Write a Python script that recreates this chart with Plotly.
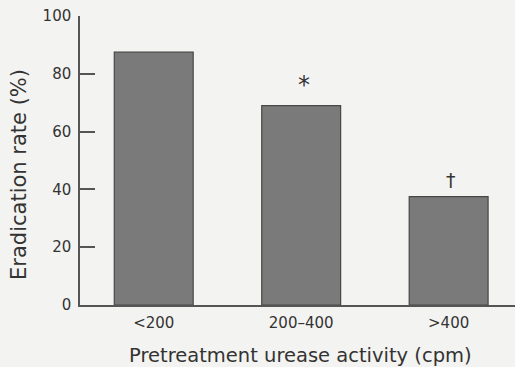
import plotly.graph_objects as go

categories = ["<200", "200–400", ">400"]
eradication = [87.5, 69, 37.5]
markers = ["", "*", "†"]
y_ticks = [0, 20, 40, 60, 80, 100]
x_title = "Pretreatment urease activity (cpm)"
y_title = "Eradication rate (%)"

FONT = "DejaVu Sans"
BG = "#f3f3f1"

fig = go.Figure()
fig.add_trace(go.Bar(
    x=list(range(len(categories))), y=eradication, width=0.535,
    marker=dict(color="#7a7a7a", line=dict(color="#474747", width=1.2)),
))

for i, (v, m) in enumerate(zip(eradication, markers)):
    if m:
        fig.add_annotation(x=i, y=v, text=m, showarrow=False, yanchor="bottom",
                           yshift=5 if m == "*" else 4, xshift=3 if m == "*" else 2,
                           font=dict(family=FONT, size=24 if m == "*" else 19, color="#333"))

fig.add_annotation(xref="paper", yref="paper", x=0.508, y=0, yshift=-50,
                   xanchor="center", yanchor="middle", showarrow=False, text=x_title,
                   font=dict(family=FONT, size=19.5, color="#333"))
fig.add_annotation(xref="paper", yref="paper", x=0, xshift=-61, y=0.45,
                   xanchor="center", yanchor="middle", showarrow=False, text=y_title,
                   textangle=-90, font=dict(family=FONT, size=21, color="#333"))

fig.update_layout(
    width=515, height=367,
    margin=dict(l=80, r=0, t=16, b=62),
    paper_bgcolor=BG, plot_bgcolor=BG,
    showlegend=False,
    font=dict(family=FONT, color="#333"),
    xaxis=dict(
        range=[-0.5, 2.45], tickmode="array",
        tickvals=list(range(len(categories))), ticktext=categories,
        showgrid=False, zeroline=False, showline=True, linecolor="#555", linewidth=1.5,
        ticks="", tickfont=dict(family=FONT, size=15, color="#333"), ticklabelstandoff=3,
        automargin=False, fixedrange=True,
    ),
    yaxis=dict(
        range=[0, 100], tickmode="array", tickvals=y_ticks,
        showgrid=False, zeroline=False, showline=True, linecolor="#555", linewidth=1.5,
        ticks="inside", ticklen=15, tickwidth=1.5, tickcolor="#555",
        tickfont=dict(family=FONT, size=15, color="#333"), ticklabelstandoff=4,
        automargin=False, fixedrange=True,
    ),
)

fig.write_html("out.html", config={"displayModeBar": False},
               post_script="document.body.style.margin='0';document.body.style.overflow='hidden';")
